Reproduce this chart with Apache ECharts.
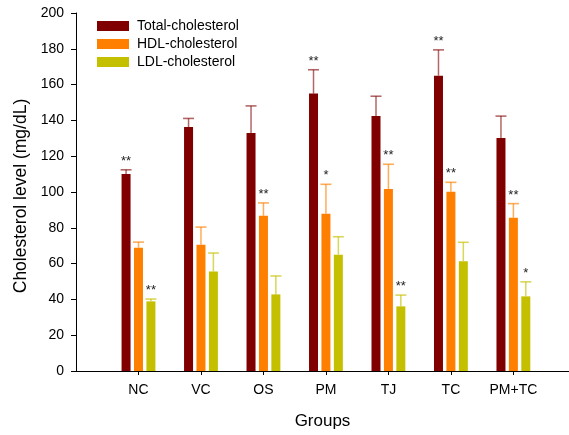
<!DOCTYPE html>
<html>
<head>
<meta charset="utf-8">
<script src="https://cdn.jsdelivr.net/npm/echarts@6/dist/echarts.min.js"></script>
<style>html,body{margin:0;padding:0;background:#fff}#c{width:569px;height:435px}</style>
</head>
<body>
<div id="c"></div>
<script>
var groups = ['NC', 'VC', 'OS', 'PM', 'TJ', 'TC', 'PM+TC'];
var seriesNames = ['Total-cholesterol', 'HDL-cholesterol', 'LDL-cholesterol'];
var totalMean = [110, 136.3, 133, 155, 142.5, 165, 130.2];
var totalSD   = [2.4, 4.8, 15.1, 13.3, 11, 14.4, 12.2];
var hdlMean   = [68.9, 70.6, 86.7, 87.8, 101.7, 100.2, 85.6];
var hdlSD     = [3.1, 9.8, 7.2, 16.5, 13.8, 5.2, 7.9];
var ldlMean   = [38.9, 55.6, 42.8, 65, 36.1, 61.3, 41.7];
var ldlSD     = [1.3, 10.3, 10.3, 10, 6.3, 10.6, 8.1];
var totalSig  = ['**', '', '', '**', '', '**', ''];
var hdlSig    = ['', '', '**', '*', '**', '**', '**'];
var ldlSig    = ['**', '', '', '', '**', '', '*'];
var yTicks = [0, 20, 40, 60, 80, 100, 120, 140, 160, 180, 200];
var groupPos = [1, 2, 3, 4, 5, 6, 7];
var xMax = 7.89;

var colors = ['#800000', '#ff8000', '#c4c000'];
var errColors = ['rgba(128,0,0,0.6)', 'rgba(255,128,0,0.65)', 'rgba(196,192,0,0.65)'];
var FONT = '"Liberation Sans", Arial, sans-serif';
var BAR_W = 9, BAR_GAP = 0.38;

var means = [totalMean, hdlMean, ldlMean];
var sds = [totalSD, hdlSD, ldlSD];
var sigs = [totalSig, hdlSig, ldlSig];

var series = [];
for (var k = 0; k < 3; k++) {
  (function (k) {
    series.push({
      name: seriesNames[k], type: 'custom', z: 2,
      itemStyle: { color: colors[k] },
      renderItem: function (params, api) {
        var x0 = api.value(0), m = api.value(1);
        var p0 = api.coord([x0, m]);
        var pb = api.coord([x0, 0]);
        var off = (k - 1) * BAR_W * (1 + BAR_GAP);
        return { type: 'rect', shape: { x: p0[0] + off - BAR_W / 2, y: p0[1], width: BAR_W, height: pb[1] - p0[1] }, style: { fill: colors[k] } };
      },
      data: groupPos.map(function (x, i) { return [x, means[k][i]]; })
    });
  })(k);
}
for (var k2 = 0; k2 < 3; k2++) {
  (function (k) {
    series.push({
      type: 'custom', name: seriesNames[k] + ' err', z: 5, silent: true,
      renderItem: function (params, api) {
        var x0 = api.value(0), m = api.value(1), sd = api.value(2);
        var sig = sigs[k][params.dataIndex];
        var p0 = api.coord([x0, m]);
        var p1 = api.coord([x0, m + sd]);
        var off = (k - 1) * BAR_W * (1 + BAR_GAP);
        var x = p0[0] + off;
        var ch = [
          { type: 'line', shape: { x1: x, y1: p0[1], x2: x, y2: p1[1] }, style: { stroke: errColors[k], lineWidth: 1.5 } },
          { type: 'line', shape: { x1: x - 5.5, y1: p1[1], x2: x + 5.5, y2: p1[1] }, style: { stroke: errColors[k], lineWidth: 1.6 } }
        ];
        if (sig) {
          ch.push({ type: 'text', style: { text: sig, x: x, y: p1[1] - 2, align: 'center', verticalAlign: 'bottom', fill: '#222', font: '13px ' + FONT } });
        }
        return { type: 'group', children: ch };
      },
      data: groupPos.map(function (x, i) { return [x, means[k][i], sds[k][i]]; })
    });
  })(k2);
}

var chart = echarts.init(document.getElementById('c'));
chart.setOption({
  animation: false,
  textStyle: { fontFamily: FONT },
  grid: { left: 76, top: 13, right: 0, height: 360, containLabel: false },
  legend: {
    data: seriesNames.map(function (n, i) { return { name: n, itemStyle: { color: colors[i] } }; }),
    orient: 'vertical', left: 92, top: 14,
    itemWidth: 32, itemHeight: 10, itemGap: 4, icon: 'rect',
    textStyle: { fontSize: 14, color: '#000', fontFamily: FONT, lineHeight: 14, padding: [0, 0, 0, 3] }
  },
  xAxis: {
    type: 'value', min: 0, max: xMax, interval: 1,
    name: 'Groups', nameLocation: 'middle', nameGap: 42,
    nameTextStyle: { fontSize: 17, color: '#000', fontFamily: FONT },
    axisLine: { show: true, lineStyle: { color: '#000', width: 1 } },
    axisTick: { show: true, length: 4, lineStyle: { color: '#000' }, customValues: groupPos },
    axisLabel: { fontSize: 14, color: '#000', margin: 12, fontFamily: FONT, customValues: groupPos,
      formatter: function (v) { return groups[Math.round(v) - 1] || ''; } },
    splitLine: { show: false }
  },
  yAxis: {
    type: 'value', min: yTicks[0], max: yTicks[yTicks.length - 1], interval: yTicks[1] - yTicks[0],
    name: 'Cholesterol level (mg/dL)', nameLocation: 'middle', nameGap: 45,
    nameTextStyle: { fontSize: 17.5, color: '#000', fontFamily: FONT, padding: [0, 8, 0, 0] },
    axisLine: { show: true, lineStyle: { color: '#000', width: 1 } },
    axisTick: { show: true, length: 5, lineStyle: { color: '#000' } },
    axisLabel: { fontSize: 14, color: '#000', margin: 12, fontFamily: FONT },
    splitLine: { show: false }
  },
  series: series
});
</script>
</body>
</html>
